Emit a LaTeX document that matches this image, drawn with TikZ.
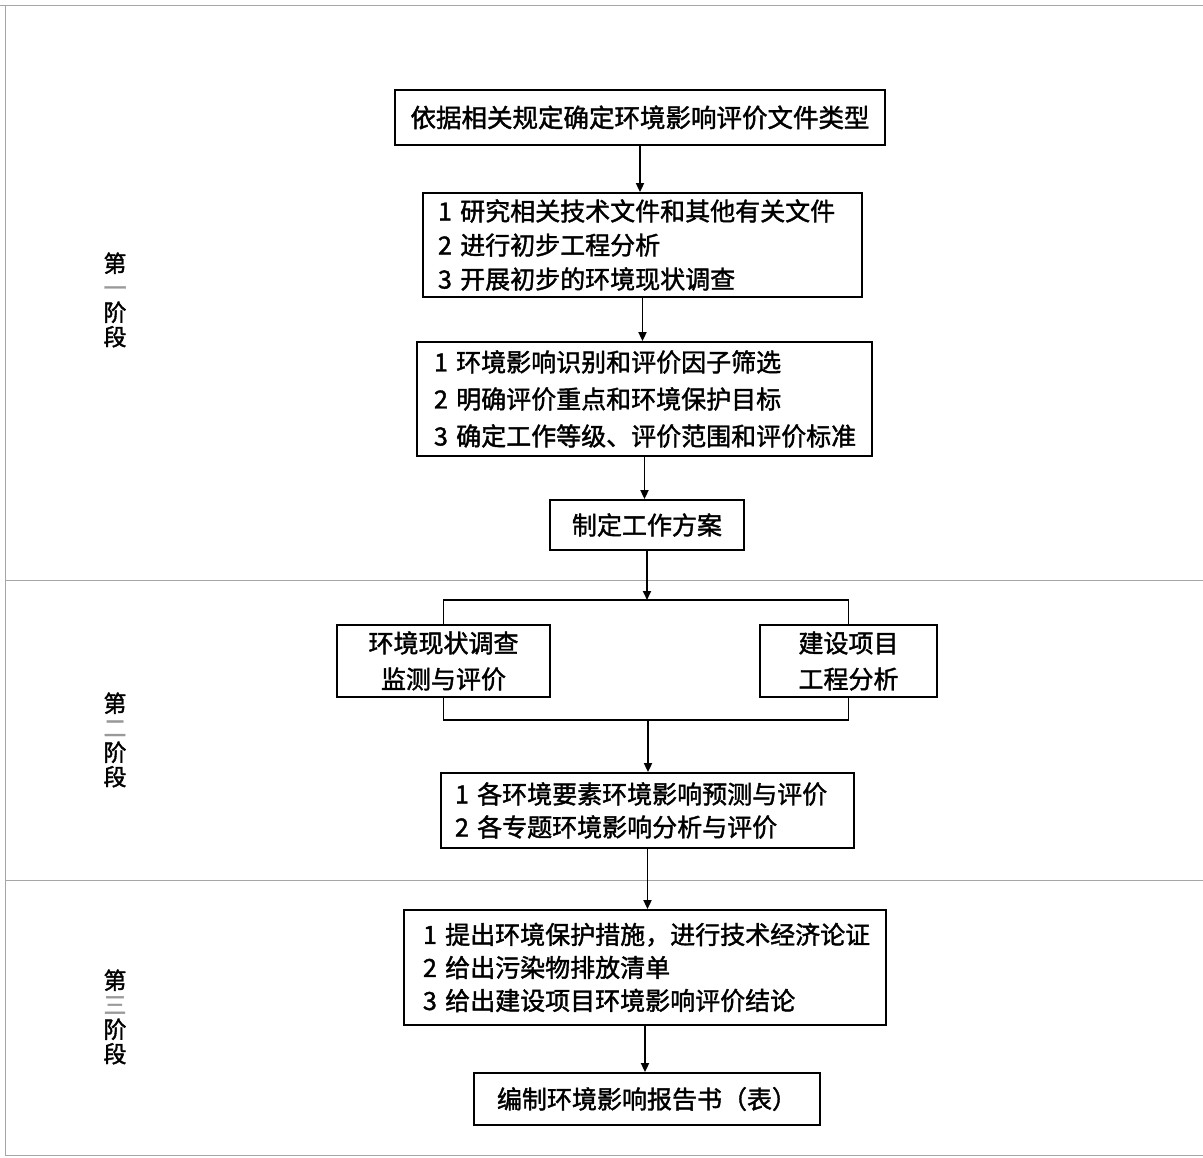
\documentclass[tikz,border=0pt]{standalone}
\usepackage{fontspec}
\setmainfont{Noto Sans CJK SC}[BoldFont={Noto Sans CJK SC},BoldFeatures={FakeBold=1.6}]
\usetikzlibrary{arrows.meta}
\begin{document}
\begin{tikzpicture}[x=1pt,y=-1pt,
  box/.style={draw,line width=1.8pt,inner sep=0pt,font=\bfseries\fontsize{25}{34}\selectfont},
  listbox/.style={box,align=left},
  cbox/.style={box,align=center},
  conn/.style={line width=1.8pt},
  arr/.style={conn,-{Triangle[length=9pt,width=8pt]}},
  frame/.style={line width=1pt,black!35},
  stage/.style={align=center,font=\bfseries\fontsize{23}{24.5}\selectfont}
]
\useasboundingbox (0,0) rectangle (1203,1158);
% frame and stage dividers
\draw[frame] (0,6) -- (1203,6);
\draw[frame] (5,6) -- (5,1155);
\draw[frame] (5,1155) -- (1203,1155);
\draw[frame] (5,580) -- (1203,580);
\draw[frame] (5,880) -- (1203,880);

% stage labels
\node[stage] (s1) at (115,300) {第\\{\color{black!40}一}\\阶\\段};
\node[stage] (s2) at (115,740) {第\\{\color{black!40}二}\\阶\\段};
\node[stage] (s3) at (115,1017) {第\\{\color{black!40}三}\\阶\\段};

% boxes
\node[cbox,minimum width=490pt,minimum height=55pt,font=\bfseries\fontsize{25.5}{34}\selectfont] (b1) at (640,117.5)
  {依据相关规定确定环境影响评价文件类型};
\node[listbox,minimum width=439pt,minimum height=104pt,text width=409pt] (b2) at (642.5,245)
  {1 研究相关技术文件和其他有关文件\\2 进行初步工程分析\\3 开展初步的环境现状调查};
\node[listbox,minimum width=455pt,minimum height=114pt,text width=421pt,
  font=\bfseries\fontsize{25}{37}\selectfont] (b3) at (644.5,399)
  {1 环境影响识别和评价因子筛选\\2 明确评价重点和环境保护目标\\3 确定工作等级、评价范围和评价标准};
\node[cbox,minimum width=194pt,minimum height=50pt] (b4) at (647,525)
  {制定工作方案};
\node[cbox,minimum width=213pt,minimum height=72pt,font=\bfseries\fontsize{25}{36}\selectfont] (bL) at (443.5,661)
  {环境现状调查\\监测与评价};
\node[cbox,minimum width=177pt,minimum height=72pt,font=\bfseries\fontsize{25}{36}\selectfont] (bR) at (848.5,661)
  {建设项目\\工程分析};
\node[listbox,minimum width=413pt,minimum height=75pt,text width=385pt,
  font=\bfseries\fontsize{25}{33}\selectfont] (b5) at (647.5,810.5)
  {1 各环境要素环境影响预测与评价\\2 各专题环境影响分析与评价};
\node[listbox,minimum width=482pt,minimum height=115pt,text width=444pt,
  font=\bfseries\fontsize{25}{33}\selectfont] (b6) at (645,967.5)
  {1 提出环境保护措施，进行技术经济论证\\2 给出污染物排放清单\\3 给出建设项目环境影响评价结论};
\node[cbox,minimum width=346pt,minimum height=52pt] (b7) at (647,1099)
  {编制环境影响报告书（表）};

% connectors
\coordinate (split) at (647,600);
\coordinate (merge) at (648,720);
\draw[arr] (b1.south) -- (b1.south |- b2.north);
\draw[arr] (b2.south) -- (b2.south |- b3.north);
\draw[arr] (b3.south) -- (b3.south |- b4.north);
\draw[arr] (b4.south) -- (split);
\draw[conn] (bL.north) |- (split) -| (bR.north);
\draw[conn] (bL.south) |- (merge) -| (bR.south);
\draw[arr] (merge) -- (merge |- b5.north);
\draw[arr] (b5.south) -- (b5.south |- b6.north);
\draw[arr] (b6.south) -- (b6.south |- b7.north);
\end{tikzpicture}
\end{document}
